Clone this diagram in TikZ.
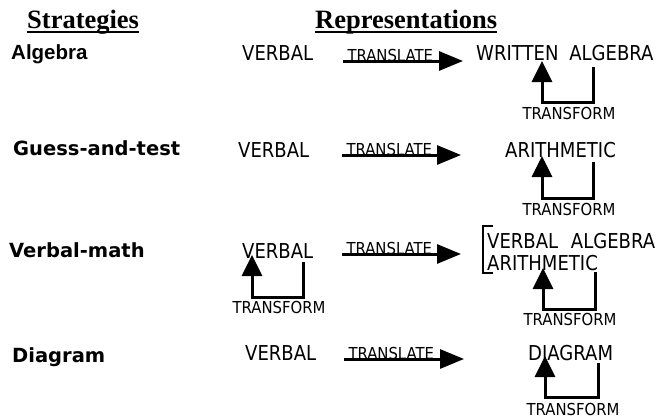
\documentclass[tikz,border=0pt]{standalone}
\usepackage{fontspec}
\usetikzlibrary{arrows.meta}
\newfontfamily\hdfont{Liberation Serif}
\newfontfamily\algfont{Liberation Sans}
\newfontfamily\strfont{DejaVu Sans}
\newfontfamily\repfont[FakeStretch=0.88]{DejaVu Sans}
\newfontfamily\tinyfont[FakeStretch=0.9]{DejaVu Sans}
\begin{document}
\begin{tikzpicture}[x=1pt,y=-1pt,
  hd/.style={font=\hdfont\bfseries\fontsize{26.5}{30}\selectfont,inner sep=0pt,anchor=base west},
  ulin/.style={line width=2pt},
  stralg/.style={font=\algfont\bfseries\fontsize{20.5}{24}\selectfont,inner sep=0pt,anchor=base west},
  strat/.style={font=\strfont\bfseries\fontsize{19.5}{24}\selectfont,inner sep=0pt,anchor=base west},
  rep/.style={font=\repfont\fontsize{20.5}{24}\selectfont,inner sep=0pt,anchor=base west},
  lab/.style={font=\tinyfont\fontsize{16.5}{20}\selectfont,inner sep=0pt},
  trans/.style={line width=3pt,-{Triangle[length=24pt,width=19pt]},shorten >=-2pt},
  loopar/.style={line width=3pt,-{Triangle[length=21pt,width=20pt]},shorten >=-2pt},
  brk/.style={line width=1.2pt}
]
\useasboundingbox (0,0) rectangle (658,418);
% headers
\node[hd] (hs) at (27,28) {Strategies};
\node[hd] (hr) at (315,28) {Representations};
\draw[ulin] ([yshift=-4]hs.base west) -- ([yshift=-4]hs.base east);
\draw[ulin] ([yshift=-4]hr.base west) -- ([yshift=-4]hr.base east);
% strategies
\node[stralg] (s1) at (11,59) {Algebra};
\node[strat] (s2) at (13,155) {Guess-and-test};
\node[strat] (s3) at (9,257) {Verbal-math};
\node[strat] (s4) at (12,362) {Diagram};
% verbal
\node[rep] (v1) at (242,60) {VERBAL};
\node[rep] (v2) at (238,157) {VERBAL};
\node[rep] (v3) at (242,258) {VERBAL};
\node[rep] (v4) at (245,360) {VERBAL};
% targets
\node[rep] (t1) at (476,60) {WRITTEN\hspace{5pt} ALGEBRA};
\node[rep] (t2) at (505,157) {ARITHMETIC};
\node[rep] (t3a) at (487,248) {VERBAL\hspace{7pt} ALGEBRA};
\node[rep] (t3b) at (487,270) {ARITHMETIC};
\node[rep] (t4) at (528,360) {DIAGRAM};
% translate arrows
\coordinate (a1s) at (343,61); \coordinate (a1e) at (461,61);
\coordinate (a2s) at (342,155); \coordinate (a2e) at (459,155);
\coordinate (a3s) at (342,254); \coordinate (a3e) at (459,254);
\coordinate (a4s) at (344,359); \coordinate (a4e) at (462,359);
\draw[trans] (a1s) -- node[lab,pos=0,anchor=south west,xshift=3pt,yshift=-2.5pt] (l1) {TRANSLATE} (a1e);
\draw[trans] (a2s) -- node[lab,pos=0,anchor=south west,xshift=3pt,yshift=-2.5pt] (l2) {TRANSLATE} (a2e);
\draw[trans] (a3s) -- node[lab,pos=0,anchor=south west,xshift=3pt,yshift=-2.5pt] (l3) {TRANSLATE} (a3e);
\draw[trans] (a4s) -- node[lab,pos=0,anchor=south west,xshift=3pt,yshift=-2.5pt] (l4) {TRANSLATE} (a4e);
% bracket
\coordinate (b1) at (493,226); \coordinate (b2) at (483,226);
\coordinate (b3) at (483,273); \coordinate (b4) at (493,273);
\draw[brk] (b1) -- (b2) -- (b3) -- (b4);
% transform loops
\coordinate (r1) at (593,67); \coordinate (p1) at (542,102); \coordinate (q1) at (542,63);
\draw[loopar] (r1) |- (p1) -- (q1);
\node[lab,anchor=base] (f1) at (569,119) {TRANSFORM};
\coordinate (r2) at (593,162); \coordinate (p2) at (542,198); \coordinate (q2) at (542,158);
\draw[loopar] (r2) |- (p2) -- (q2);
\node[lab,anchor=base] (f2) at (569,215) {TRANSFORM};
\coordinate (r3) at (303,262); \coordinate (p3) at (252,297); \coordinate (q3) at (252,257);
\draw[loopar] (r3) |- (p3) -- (q3);
\node[lab,anchor=base] (f3) at (279,313) {TRANSFORM};
\coordinate (r5) at (595,272); \coordinate (p5) at (543,309); \coordinate (q5) at (543,270);
\draw[loopar] (r5) |- (p5) -- (q5);
\node[lab,anchor=base] (f5) at (570,325) {TRANSFORM};
\coordinate (r4) at (598,363); \coordinate (p4) at (545,397); \coordinate (q4) at (545,358);
\draw[loopar] (r4) |- (p4) -- (q4);
\node[lab,anchor=base] (f4) at (573,415) {TRANSFORM};
\end{tikzpicture}
\end{document}
